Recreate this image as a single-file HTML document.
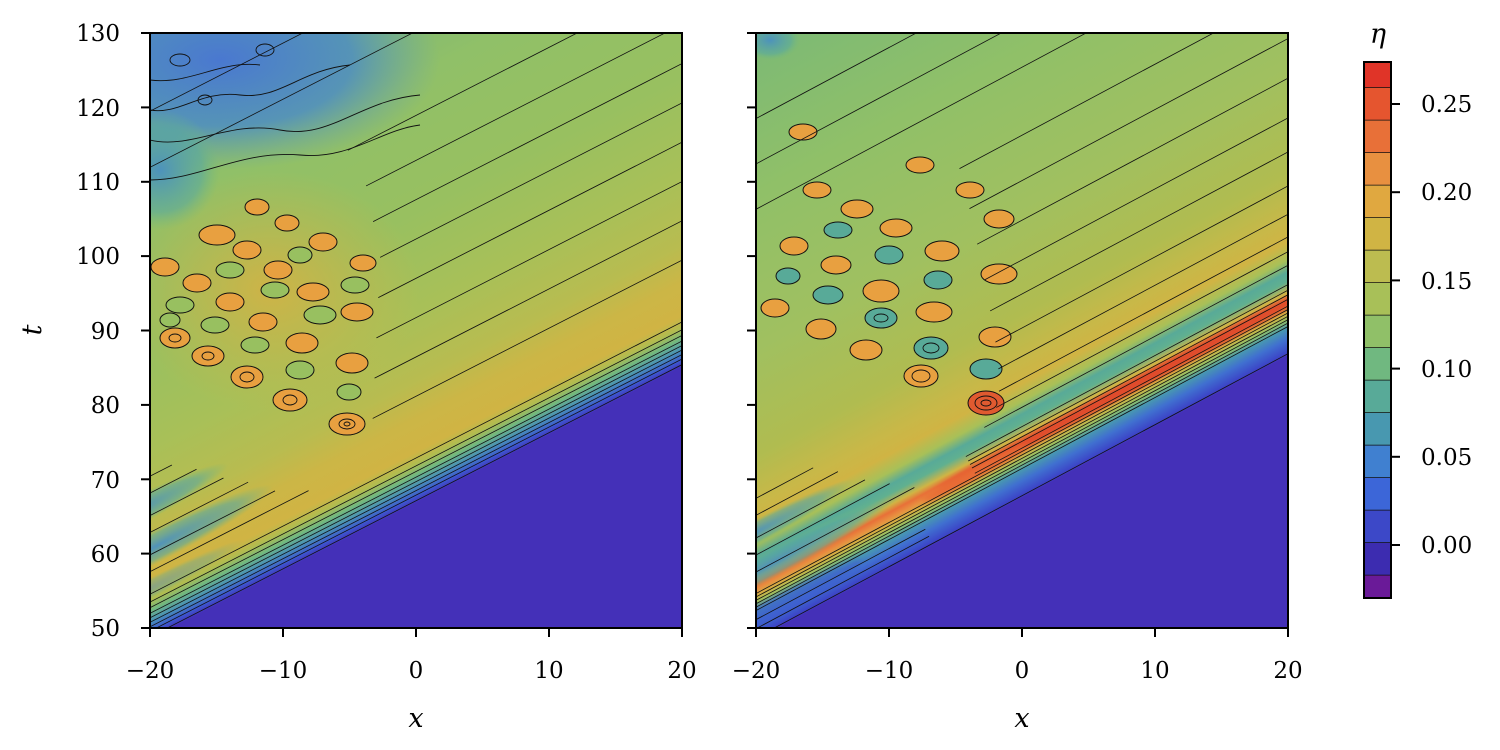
<!DOCTYPE html>
<html><head><meta charset="utf-8"><style>
html,body{margin:0;padding:0;background:#fff;overflow:hidden;width:1500px;height:750px;}
svg{display:block;}
svg text{font-family:"DejaVu Serif","Liberation Serif",serif;fill:#000;}
</style></head><body>
<svg width="1500" height="750" viewBox="0 0 1500 750" xmlns="http://www.w3.org/2000/svg">
<defs>
<clipPath id="cl"><rect x="150" y="33" width="532" height="595"/></clipPath>
<clipPath id="cr"><rect x="756" y="33" width="532" height="595"/></clipPath>
<linearGradient id="gl" x1="0" y1="0" x2="0" y2="-520" gradientUnits="userSpaceOnUse">
<stop offset="0" stop-color="#4430b8"/>
<stop offset="0.012" stop-color="#3c58d0"/>
<stop offset="0.029" stop-color="#4890b8"/>
<stop offset="0.048" stop-color="#70b880"/>
<stop offset="0.067" stop-color="#b0bc50"/>
<stop offset="0.087" stop-color="#d0b444"/>
<stop offset="0.144" stop-color="#ccb646"/>
<stop offset="0.21" stop-color="#b8bc50"/>
<stop offset="0.33" stop-color="#a8c058"/>
<stop offset="0.5" stop-color="#98c060"/>
<stop offset="0.73" stop-color="#90c068"/>
<stop offset="1" stop-color="#70b080"/>
</linearGradient>
<linearGradient id="gr" x1="0" y1="0" x2="0" y2="-560" gradientUnits="userSpaceOnUse">
<stop offset="0" stop-color="#4430b8"/>
<stop offset="0.007" stop-color="#3c48c8"/>
<stop offset="0.027" stop-color="#4070d0"/>
<stop offset="0.045" stop-color="#4898b0"/>
<stop offset="0.057" stop-color="#90c068"/>
<stop offset="0.068" stop-color="#d0b444"/>
<stop offset="0.079" stop-color="#e89040"/>
<stop offset="0.089" stop-color="#e87038"/>
<stop offset="0.1" stop-color="#d0b444"/>
<stop offset="0.118" stop-color="#60b090"/>
<stop offset="0.132" stop-color="#58aa98"/>
<stop offset="0.152" stop-color="#a8c058"/>
<stop offset="0.18" stop-color="#d0b444"/>
<stop offset="0.215" stop-color="#c8b848"/>
<stop offset="0.29" stop-color="#b0bc50"/>
<stop offset="0.46" stop-color="#a0c060"/>
<stop offset="0.7" stop-color="#90c068"/>
<stop offset="1" stop-color="#78b878"/>
</linearGradient>
<radialGradient id="blueL" cx="0.5" cy="0.5" r="0.5">
<stop offset="0" stop-color="#4a78d0" stop-opacity="1"/>
<stop offset="0.6" stop-color="#4a8ac8" stop-opacity="0.8"/>
<stop offset="1" stop-color="#60a0b0" stop-opacity="0"/>
</radialGradient>
<radialGradient id="tealT" cx="0.5" cy="0.5" r="0.5">
<stop offset="0" stop-color="#4a90c0" stop-opacity="0.95"/>
<stop offset="0.7" stop-color="#58a8a0" stop-opacity="0.6"/>
<stop offset="1" stop-color="#70b880" stop-opacity="0"/>
</radialGradient>
<radialGradient id="yelB" cx="0.5" cy="0.5" r="0.5">
<stop offset="0" stop-color="#d4b244" stop-opacity="0.9"/>
<stop offset="1" stop-color="#d0b444" stop-opacity="0"/>
</radialGradient>
<filter id="bl"><feGaussianBlur stdDeviation="3"/></filter>
</defs>

<!-- LEFT PANEL -->
<g clip-path="url(#cl)">
<rect x="150" y="33" width="532" height="595" fill="#4430b8"/>
<g transform="translate(416,503) rotate(-27.1)">
<rect x="-900" y="-800" width="1800" height="800" fill="url(#gl)"/>
</g>
<ellipse cx="270" cy="290" rx="150" ry="120" fill="url(#yelB)"/>
<ellipse cx="220" cy="60" rx="220" ry="110" fill="url(#blueL)"/>
<ellipse cx="160" cy="170" rx="60" ry="60" fill="url(#tealT)"/>
<g transform="translate(416,503) rotate(-27.1)">
<ellipse cx="-250" cy="-80" rx="130" ry="16" fill="url(#tealT)"/>
<ellipse cx="-260" cy="-120" rx="110" ry="14" fill="url(#tealT)"/>
<ellipse cx="-290" cy="-45" rx="120" ry="10" fill="url(#tealT)" opacity="0.6"/>
</g>
<g fill="#e8a040" stroke="#111" stroke-width="1">
<ellipse cx="175" cy="338" rx="15" ry="10"/><ellipse cx="208" cy="356" rx="16" ry="10"/>
<ellipse cx="247" cy="377" rx="16" ry="11"/><ellipse cx="290" cy="400" rx="17" ry="11"/>
<ellipse cx="347" cy="424" rx="18" ry="11"/>
<ellipse cx="165" cy="267" rx="14" ry="9"/><ellipse cx="197" cy="283" rx="14" ry="9"/>
<ellipse cx="230" cy="302" rx="14" ry="9"/><ellipse cx="263" cy="322" rx="14" ry="9"/>
<ellipse cx="302" cy="343" rx="16" ry="10"/><ellipse cx="352" cy="363" rx="16" ry="10"/>
<ellipse cx="217" cy="235" rx="18" ry="10"/><ellipse cx="247" cy="250" rx="14" ry="9"/>
<ellipse cx="278" cy="270" rx="14" ry="9"/><ellipse cx="313" cy="292" rx="16" ry="9"/>
<ellipse cx="357" cy="312" rx="16" ry="9"/>
<ellipse cx="257" cy="207" rx="12" ry="8"/><ellipse cx="287" cy="223" rx="12" ry="8"/>
<ellipse cx="323" cy="242" rx="14" ry="9"/><ellipse cx="363" cy="263" rx="13" ry="8"/>
</g>
<g fill="#98c060" stroke="#111" stroke-width="1">
<ellipse cx="180" cy="305" rx="14" ry="8"/><ellipse cx="215" cy="325" rx="14" ry="8"/>
<ellipse cx="255" cy="345" rx="14" ry="8"/><ellipse cx="300" cy="370" rx="14" ry="9"/>
<ellipse cx="349" cy="392" rx="12" ry="8"/>
<ellipse cx="230" cy="270" rx="14" ry="8"/><ellipse cx="275" cy="290" rx="14" ry="8"/>
<ellipse cx="320" cy="315" rx="16" ry="9"/>
<ellipse cx="300" cy="255" rx="12" ry="8"/><ellipse cx="355" cy="285" rx="14" ry="8"/>
<ellipse cx="170" cy="320" rx="10" ry="7"/>
</g>
<g fill="none" stroke="#111" stroke-width="0.9">
<ellipse cx="175" cy="338" rx="6" ry="4"/><ellipse cx="208" cy="356" rx="6" ry="4"/>
<ellipse cx="247" cy="377" rx="7" ry="5"/><ellipse cx="290" cy="400" rx="7" ry="5"/>
<ellipse cx="347" cy="424" rx="8" ry="5"/><ellipse cx="347" cy="424" rx="3" ry="2"/>
</g>
<g transform="translate(416,503) rotate(-27.1)" fill="none" stroke="#111" stroke-width="0.8">
<line x1="-900" y1="-2" x2="900" y2="-2"/>
<line x1="-900" y1="-7" x2="900" y2="-7"/>
<line x1="-900" y1="-11" x2="900" y2="-11"/>
<line x1="-900" y1="-15" x2="900" y2="-15"/>
<line x1="-900" y1="-19" x2="900" y2="-19"/>
<line x1="-900" y1="-23" x2="900" y2="-23"/>
<line x1="-900" y1="-28" x2="900" y2="-28"/>
<line x1="-900" y1="-33" x2="900" y2="-33"/>
<line x1="-900" y1="-40" x2="900" y2="-40"/>
<line x1="0" y1="-95" x2="900" y2="-95"/>
<line x1="20" y1="-130" x2="900" y2="-130"/>
<line x1="40" y1="-165" x2="900" y2="-165"/>
<line x1="60" y1="-200" x2="900" y2="-200"/>
<line x1="80" y1="-235" x2="900" y2="-235"/>
<line x1="90" y1="-270" x2="900" y2="-270"/>
<line x1="100" y1="-305" x2="900" y2="-305"/>
<line x1="100" y1="-345" x2="900" y2="-345"/>
<line x1="-500" y1="-60" x2="-90" y2="-60"/>
<line x1="-500" y1="-75" x2="-120" y2="-75"/>
<line x1="-500" y1="-95" x2="-140" y2="-95"/>
<line x1="-500" y1="-110" x2="-160" y2="-110"/>
<line x1="-500" y1="-130" x2="-180" y2="-130"/>
<line x1="-500" y1="-145" x2="-200" y2="-145"/>
<line x1="-600" y1="-420" x2="900" y2="-420"/>
<line x1="-600" y1="-470" x2="900" y2="-470"/>
</g>
<g fill="none" stroke="#111" stroke-width="0.9">
<path d="M150,140 C190,150 230,120 280,130 C330,140 360,100 420,95"/>
<path d="M150,110 C180,115 200,90 240,95 C280,100 300,70 350,65"/>
<path d="M150,80 C190,85 220,60 260,65"/>
<path d="M150,180 C200,180 240,150 300,155 C350,160 380,130 420,125"/>
<ellipse cx="205" cy="100" rx="7" ry="5"/><ellipse cx="265" cy="50" rx="9" ry="6"/>
<ellipse cx="180" cy="60" rx="10" ry="6"/>
</g>
</g>
<rect x="150" y="33" width="532" height="595" fill="none" stroke="#000" stroke-width="2"/>

<!-- RIGHT PANEL -->
<g clip-path="url(#cr)">
<rect x="756" y="33" width="532" height="595" fill="#4430b8"/>
<g transform="translate(1022,498) rotate(-28.1)">
<rect x="-900" y="-800" width="1800" height="800" fill="url(#gr)"/>
<ellipse cx="170" cy="-47" rx="240" ry="6" fill="#e04a2c" filter="url(#bl)"/>
<ellipse cx="-30" cy="-44" rx="60" ry="6" fill="#e86a34" filter="url(#bl)"/>
<ellipse cx="-250" cy="-60" rx="140" ry="14" fill="url(#tealT)"/>
<ellipse cx="-260" cy="-95" rx="120" ry="12" fill="url(#tealT)"/>
<ellipse cx="-290" cy="-20" rx="120" ry="10" fill="#3c58d0" opacity="0.6" filter="url(#bl)"/>
</g>
<ellipse cx="770" cy="40" rx="30" ry="20" fill="url(#tealT)"/>
<g fill="#e8a040" stroke="#111" stroke-width="1">
<ellipse cx="821" cy="329" rx="15" ry="10"/><ellipse cx="866" cy="350" rx="16" ry="10"/>
<ellipse cx="921" cy="376" rx="17" ry="11"/>
<ellipse cx="986" cy="403" rx="18" ry="12" fill="#e05a30"/>
<ellipse cx="775" cy="308" rx="14" ry="9"/><ellipse cx="857" cy="209" rx="16" ry="9"/>
<ellipse cx="896" cy="228" rx="16" ry="9"/><ellipse cx="942" cy="251" rx="17" ry="10"/>
<ellipse cx="999" cy="274" rx="18" ry="10"/><ellipse cx="999" cy="219" rx="15" ry="9"/>
<ellipse cx="881" cy="291" rx="18" ry="11"/><ellipse cx="934" cy="312" rx="18" ry="10"/>
<ellipse cx="995" cy="337" rx="16" ry="10"/><ellipse cx="836" cy="265" rx="15" ry="9"/>
<ellipse cx="794" cy="246" rx="14" ry="9"/><ellipse cx="817" cy="190" rx="14" ry="8"/>
<ellipse cx="803" cy="132" rx="14" ry="8"/><ellipse cx="920" cy="165" rx="14" ry="8"/>
<ellipse cx="970" cy="190" rx="14" ry="8"/>
</g>
<g fill="#58aa98" stroke="#111" stroke-width="1">
<ellipse cx="828" cy="295" rx="15" ry="9"/><ellipse cx="881" cy="318" rx="16" ry="10"/>
<ellipse cx="931" cy="348" rx="17" ry="11"/><ellipse cx="986" cy="369" rx="16" ry="10"/>
<ellipse cx="788" cy="276" rx="12" ry="8"/><ellipse cx="838" cy="230" rx="14" ry="8"/>
<ellipse cx="889" cy="255" rx="14" ry="9"/><ellipse cx="938" cy="280" rx="14" ry="9"/>
</g>
<g fill="none" stroke="#111" stroke-width="0.9">
<ellipse cx="986" cy="403" rx="11" ry="7"/><ellipse cx="986" cy="403" rx="5" ry="3"/>
<ellipse cx="921" cy="376" rx="9" ry="6"/>
<ellipse cx="881" cy="318" rx="7" ry="4"/><ellipse cx="931" cy="348" rx="8" ry="5"/>
</g>
<g transform="translate(1022,498) rotate(-28.1)" fill="none" stroke="#111" stroke-width="0.8">
<line x1="-900" y1="-2" x2="900" y2="-2"/>
<line x1="-900" y1="-26" x2="900" y2="-26"/>
<line x1="-900" y1="-29" x2="900" y2="-29"/>
<line x1="-900" y1="-32" x2="900" y2="-32"/>
<line x1="-900" y1="-35" x2="900" y2="-35"/>
<line x1="-900" y1="-38" x2="900" y2="-38"/>
<line x1="-900" y1="-41" x2="900" y2="-41"/>
<line x1="-30" y1="-44" x2="900" y2="-44"/>
<line x1="-30" y1="-50" x2="900" y2="-50"/>
<line x1="-30" y1="-54" x2="900" y2="-54"/>
<line x1="-30" y1="-58" x2="900" y2="-58"/>
<line x1="-30" y1="-63" x2="900" y2="-63"/>
<line x1="0" y1="-80" x2="900" y2="-80"/>
<line x1="20" y1="-92" x2="900" y2="-92"/>
<line x1="30" y1="-105" x2="900" y2="-105"/>
<line x1="40" y1="-125" x2="900" y2="-125"/>
<line x1="50" y1="-150" x2="900" y2="-150"/>
<line x1="60" y1="-180" x2="900" y2="-180"/>
<line x1="70" y1="-210" x2="900" y2="-210"/>
<line x1="80" y1="-245" x2="900" y2="-245"/>
<line x1="90" y1="-280" x2="900" y2="-280"/>
<line x1="100" y1="-320" x2="900" y2="-320"/>
<line x1="-500" y1="-10" x2="-100" y2="-10"/>
<line x1="-500" y1="-18" x2="-100" y2="-18"/>
<line x1="-500" y1="-60" x2="-90" y2="-60"/>
<line x1="-500" y1="-75" x2="-110" y2="-75"/>
<line x1="-500" y1="-90" x2="-130" y2="-90"/>
<line x1="-500" y1="-110" x2="-150" y2="-110"/>
<line x1="-500" y1="-125" x2="-170" y2="-125"/>
<line x1="-600" y1="-380" x2="900" y2="-380"/>
<line x1="-600" y1="-420" x2="900" y2="-420"/>
<line x1="-600" y1="-460" x2="900" y2="-460"/>
</g>
</g>
<rect x="756" y="33" width="532" height="595" fill="none" stroke="#000" stroke-width="2"/>

<!-- COLORBAR -->
<g>
<rect x="1364" y="62" width="27" height="26" fill="#e03428"/>
<rect x="1364" y="87.6" width="27" height="32.5" fill="#e5552f"/>
<rect x="1364" y="120.1" width="27" height="32.5" fill="#e87038"/>
<rect x="1364" y="152.6" width="27" height="32.5" fill="#e89040"/>
<rect x="1364" y="185.1" width="27" height="32.5" fill="#e0a840"/>
<rect x="1364" y="217.6" width="27" height="32.5" fill="#d0b444"/>
<rect x="1364" y="250.1" width="27" height="32.5" fill="#bcbc50"/>
<rect x="1364" y="282.6" width="27" height="32.5" fill="#a8c058"/>
<rect x="1364" y="315.1" width="27" height="32.5" fill="#90c068"/>
<rect x="1364" y="347.6" width="27" height="32.5" fill="#70b880"/>
<rect x="1364" y="380.1" width="27" height="32.5" fill="#58aa98"/>
<rect x="1364" y="412.6" width="27" height="32.5" fill="#4898b0"/>
<rect x="1364" y="445.1" width="27" height="32.5" fill="#4080d0"/>
<rect x="1364" y="477.6" width="27" height="32.5" fill="#3c66d8"/>
<rect x="1364" y="510.1" width="27" height="32.5" fill="#3c48c8"/>
<rect x="1364" y="542.6" width="27" height="32.5" fill="#3c2cb0"/>
<rect x="1364" y="575.1" width="27" height="23" fill="#6a1a98"/>
<g stroke="#111" stroke-width="0.8">
<line x1="1364" x2="1391" y1="87.6" y2="87.6"/><line x1="1364" x2="1391" y1="120.1" y2="120.1"/>
<line x1="1364" x2="1391" y1="152.6" y2="152.6"/><line x1="1364" x2="1391" y1="185.1" y2="185.1"/>
<line x1="1364" x2="1391" y1="217.6" y2="217.6"/><line x1="1364" x2="1391" y1="250.1" y2="250.1"/>
<line x1="1364" x2="1391" y1="282.6" y2="282.6"/><line x1="1364" x2="1391" y1="315.1" y2="315.1"/>
<line x1="1364" x2="1391" y1="347.6" y2="347.6"/><line x1="1364" x2="1391" y1="380.1" y2="380.1"/>
<line x1="1364" x2="1391" y1="412.6" y2="412.6"/><line x1="1364" x2="1391" y1="445.1" y2="445.1"/>
<line x1="1364" x2="1391" y1="477.6" y2="477.6"/><line x1="1364" x2="1391" y1="510.1" y2="510.1"/>
<line x1="1364" x2="1391" y1="542.6" y2="542.6"/><line x1="1364" x2="1391" y1="575.1" y2="575.1"/>
</g>
<rect x="1364" y="62" width="27" height="536" fill="none" stroke="#000" stroke-width="2"/>
</g>

<!-- TICKS -->
<g stroke="#000" stroke-width="2">
<line x1="150" x2="150" y1="628" y2="637"/><line x1="283" x2="283" y1="628" y2="637"/>
<line x1="416" x2="416" y1="628" y2="637"/><line x1="549" x2="549" y1="628" y2="637"/>
<line x1="682" x2="682" y1="628" y2="637"/>
<line x1="756" x2="756" y1="628" y2="637"/><line x1="889" x2="889" y1="628" y2="637"/>
<line x1="1022" x2="1022" y1="628" y2="637"/><line x1="1155" x2="1155" y1="628" y2="637"/>
<line x1="1288" x2="1288" y1="628" y2="637"/>
<line x1="141" x2="150" y1="628" y2="628"/><line x1="141" x2="150" y1="553.6" y2="553.6"/>
<line x1="141" x2="150" y1="479.3" y2="479.3"/><line x1="141" x2="150" y1="404.9" y2="404.9"/>
<line x1="141" x2="150" y1="330.5" y2="330.5"/><line x1="141" x2="150" y1="256.1" y2="256.1"/>
<line x1="141" x2="150" y1="181.8" y2="181.8"/><line x1="141" x2="150" y1="107.4" y2="107.4"/>
<line x1="141" x2="150" y1="33" y2="33"/>
<line x1="747" x2="756" y1="628" y2="628"/><line x1="747" x2="756" y1="553.6" y2="553.6"/>
<line x1="747" x2="756" y1="479.3" y2="479.3"/><line x1="747" x2="756" y1="404.9" y2="404.9"/>
<line x1="747" x2="756" y1="330.5" y2="330.5"/><line x1="747" x2="756" y1="256.1" y2="256.1"/>
<line x1="747" x2="756" y1="181.8" y2="181.8"/><line x1="747" x2="756" y1="107.4" y2="107.4"/>
<line x1="747" x2="756" y1="33" y2="33"/>
<line x1="1391" x2="1400" y1="545" y2="545"/><line x1="1391" x2="1400" y1="456.8" y2="456.8"/>
<line x1="1391" x2="1400" y1="368.6" y2="368.6"/><line x1="1391" x2="1400" y1="280.4" y2="280.4"/>
<line x1="1391" x2="1400" y1="192.2" y2="192.2"/><line x1="1391" x2="1400" y1="104" y2="104"/>
</g>
<g font-size="23" text-anchor="middle">
<text x="150" y="678">−20</text><text x="283" y="678">−10</text><text x="416" y="678">0</text>
<text x="549" y="678">10</text><text x="682" y="678">20</text>
<text x="756" y="678">−20</text><text x="889" y="678">−10</text><text x="1022" y="678">0</text>
<text x="1155" y="678">10</text><text x="1288" y="678">20</text>
</g>
<g font-size="23" text-anchor="end">
<text x="120" y="636">50</text><text x="120" y="562">60</text><text x="120" y="488">70</text>
<text x="120" y="413">80</text><text x="120" y="339">90</text><text x="120" y="264">100</text>
<text x="120" y="190">110</text><text x="120" y="116">120</text><text x="120" y="41">130</text>
</g>
<g font-size="23">
<text x="1421" y="553">0.00</text><text x="1421" y="465">0.05</text><text x="1421" y="377">0.10</text>
<text x="1421" y="289">0.15</text><text x="1421" y="200">0.20</text><text x="1421" y="112">0.25</text>
</g>
<g font-size="27" font-style="italic">
<text x="416" y="727" text-anchor="middle">x</text>
<text x="1022" y="727" text-anchor="middle">x</text>
<text x="1378" y="43" text-anchor="middle">η</text>
<text transform="translate(41,330) rotate(-90)" text-anchor="middle">t</text>
</g>
</svg>
</body></html>
